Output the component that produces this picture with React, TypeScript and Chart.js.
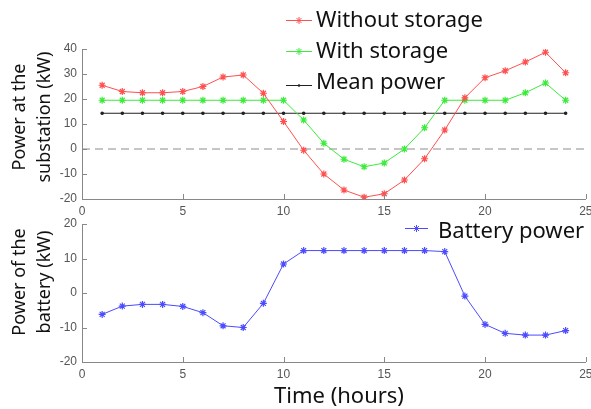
import React, { useEffect, useRef } from "react";
import { Chart, registerables } from "chart.js";
Chart.register(...registerables);

const hours = [1, 2, 3, 4, 5, 6, 7, 8, 9, 10, 11, 12, 13, 14, 15, 16, 17, 18, 19, 20, 21, 22, 23, 24];
const withoutStorage = [25.5, 23, 22.5, 22.5, 23, 25, 28.8, 29.6, 22.3, 11, -0.5, -10, -16.4, -19.3, -17.9, -12.4, -3.9, 7.6, 20.5, 28.5, 31.3, 34.8, 38.7, 30.5];
const withStorage = [19.5, 19.5, 19.5, 19.5, 19.5, 19.5, 19.5, 19.5, 19.5, 19.5, 11.6, 2.3, -4.1, -7.1, -5.6, 0, 8.5, 19.5, 19.5, 19.5, 19.5, 22.5, 26.4, 19.5];
const meanPower = [14.3, 14.3, 14.3, 14.3, 14.3, 14.3, 14.3, 14.3, 14.3, 14.3, 14.3, 14.3, 14.3, 14.3, 14.3, 14.3, 14.3, 14.3, 14.3, 14.3, 14.3, 14.3, 14.3, 14.3];
const batteryPower = [-6.2, -3.8, -3.3, -3.3, -3.9, -5.7, -9.5, -10, -3, 8.4, 12.3, 12.3, 12.3, 12.3, 12.3, 12.3, 12.3, 12, -0.9, -9.1, -11.7, -12.2, -12.2, -10.9];
const zeroLineX = [0, 25];
const zeroLineY = [0, 0];

const xTickRange = { min: 0, max: 25, step: 5 };
const topYRange = { min: -20, max: 40, step: 10 };
const bottomYRange = { min: -20, max: 20, step: 10 };

const topYTitle = ["Power at the", "substation (kW)"];
const bottomYTitle = ["Power of the", "battery (kW)"];
const xTitle = "Time (hours)";

const RED = "rgb(255,80,80)";
const GREEN = "rgb(60,235,60)";
const BLACK = "#222";
const BLUE = "rgb(75,75,255)";

const TEXT_FONT = "'Noto Sans', 'Open Sans', sans-serif";
const TICK_FONT = "'Liberation Sans', Arial, sans-serif";

const pts = (xs: number[], ys: number[]) => xs.map((x, i) => ({ x, y: ys[i] }));

function drawStar(ctx: CanvasRenderingContext2D, x: number, y: number, r: number, color: string) {
  ctx.save();
  ctx.strokeStyle = color;
  ctx.lineWidth = 1;
  ctx.beginPath();
  ctx.moveTo(x - r, y); ctx.lineTo(x + r, y);
  ctx.moveTo(x, y - r); ctx.lineTo(x, y + r);
  const d = r * 0.707;
  ctx.moveTo(x - d, y - d); ctx.lineTo(x + d, y + d);
  ctx.moveTo(x - d, y + d); ctx.lineTo(x + d, y - d);
  ctx.stroke();
  ctx.restore();
}

type LegendItem = { text: string; color: string; marker: "star" | "dot"; lineY: number; baseY: number };

function makePlugins(
  legend: { x1: number; x2: number; textX: number; size: number; items: LegendItem[] },
  yTitle: string[],
  yTitleCenter: number,
  showXTitle: { y: number; x: number } | null
) {
  return [
    {
      id: "innerTicks",
      afterDatasetsDraw(chart: any) {
        const ctx = chart.ctx as CanvasRenderingContext2D;
        const area = chart.chartArea;
        const xs = chart.scales.x;
        const ys = chart.scales.y;
        ctx.save();
        ctx.strokeStyle = "#888";
        ctx.lineWidth = 1;
        ctx.beginPath();
        xs.ticks.forEach((t: any) => {
          const px = Math.round(xs.getPixelForValue(t.value)) + 0.5;
          ctx.moveTo(px, area.bottom);
          ctx.lineTo(px, area.bottom - 5);
        });
        ys.ticks.forEach((t: any) => {
          const py = Math.round(ys.getPixelForValue(t.value)) + 0.5;
          ctx.moveTo(area.left, py);
          ctx.lineTo(area.left + 5, py);
        });
        ctx.stroke();
        ctx.restore();
      },
    },
    {
      id: "texts",
      afterDraw(chart: any) {
        const ctx = chart.ctx as CanvasRenderingContext2D;
        ctx.save();
        ctx.font = `${legend.size}px ${TEXT_FONT}`;
        ctx.textAlign = "left";
        ctx.textBaseline = "alphabetic";
        legend.items.forEach((it) => {
          ctx.strokeStyle = it.color;
          ctx.lineWidth = 1;
          ctx.beginPath();
          ctx.moveTo(legend.x1, it.lineY + 0.5);
          ctx.lineTo(legend.x2, it.lineY + 0.5);
          ctx.stroke();
          const mx = (legend.x1 + legend.x2) / 2;
          if (it.marker === "star") drawStar(ctx, mx, it.lineY + 0.5, 3.5, it.color);
          else {
            ctx.fillStyle = it.color;
            ctx.beginPath();
            ctx.arc(mx, it.lineY + 0.5, 1.3, 0, Math.PI * 2);
            ctx.fill();
          }
          ctx.fillStyle = "#111";
          ctx.fillText(it.text, legend.textX, it.baseY);
        });
        ctx.font = `18px ${TEXT_FONT}`;
        ctx.fillStyle = "#111";
        ctx.textAlign = "center";
        const baselines = [25, 49.5];
        yTitle.forEach((line, i) => {
          ctx.save();
          ctx.translate(baselines[i], yTitleCenter);
          ctx.rotate(-Math.PI / 2);
          ctx.fillText(line, 0, 0);
          ctx.restore();
        });
        if (showXTitle) {
          ctx.font = `22px ${TEXT_FONT}`;
          ctx.textAlign = "center";
          ctx.fillText(xTitle, showXTitle.x, showXTitle.y);
        }
        ctx.restore();
      },
    },
  ];
}

function axisOptions(yr: { min: number; max: number; step: number }, xHeight: number) {
  return {
    x: {
      type: "linear",
      min: xTickRange.min,
      max: xTickRange.max,
      ticks: { stepSize: xTickRange.step, color: "#555", font: { size: 12, family: TICK_FONT }, padding: 5 },
      grid: { display: false, drawTicks: false },
      border: { display: true, color: "#888", width: 1 },
      afterFit: (s: any) => {
        s.height = xHeight;
        s.paddingLeft = 0;
        s.paddingRight = 0;
      },
    },
    y: {
      type: "linear",
      min: yr.min,
      max: yr.max,
      ticks: { stepSize: yr.step, color: "#555", font: { size: 12, family: TICK_FONT }, padding: 5 },
      grid: { display: false, drawTicks: false },
      border: { display: true, color: "#888", width: 1 },
      afterFit: (s: any) => {
        s.width = 82;
        s.paddingTop = 0;
        s.paddingBottom = 0;
      },
    },
  };
}

export default function App() {
  const topRef = useRef<HTMLCanvasElement>(null);
  const botRef = useRef<HTMLCanvasElement>(null);

  useEffect(() => {
    const lineDs = (label: string, ys: number[], color: string, style: string, radius: number) => ({
      label,
      data: pts(hours, ys),
      borderColor: color,
      backgroundColor: color,
      borderWidth: 1,
      pointStyle: style,
      pointRadius: radius,
      pointBorderWidth: 1.2,
      pointBorderColor: color,
      pointBackgroundColor: color,
      tension: 0,
    });

    const top = new Chart(topRef.current!, {
      type: "line",
      data: {
        datasets: [
          lineDs("Without storage", withoutStorage, RED, "star", 3.5),
          lineDs("With storage", withStorage, GREEN, "star", 3.5),
          lineDs("Mean power", meanPower, BLACK, "circle", 1.2),
          {
            label: "zero",
            data: pts(zeroLineX, zeroLineY),
            borderColor: "#8c8c8c",
            borderWidth: 1,
            borderDash: [8, 5],
            pointRadius: 0,
          },
        ],
      } as any,
      options: {
        animation: false,
        responsive: false,
        layout: { padding: { top: 49, right: 3, left: 0, bottom: 0 } },
        plugins: { legend: { display: false }, tooltip: { enabled: false } },
        scales: axisOptions(topYRange, 16) as any,
      },
      plugins: makePlugins(
        {
          x1: 286,
          x2: 312,
          textX: 316,
          size: 22,
          items: [
            { text: "Without storage", color: RED, marker: "star", lineY: 20, baseY: 27 },
            { text: "With storage", color: GREEN, marker: "star", lineY: 51, baseY: 58 },
            { text: "Mean power", color: BLACK, marker: "dot", lineY: 85, baseY: 89 },
          ],
        },
        topYTitle,
        117,
        null
      ) as any,
    });

    const bot = new Chart(botRef.current!, {
      type: "line",
      data: {
        datasets: [lineDs("Battery power", batteryPower, BLUE, "star", 3.5)],
      } as any,
      options: {
        animation: false,
        responsive: false,
        layout: { padding: { top: 9, right: 3, left: 0, bottom: 0 } },
        plugins: { legend: { display: false }, tooltip: { enabled: false } },
        scales: axisOptions(bottomYRange, 47) as any,
      },
      plugins: makePlugins(
        {
          x1: 405,
          x2: 428,
          textX: 438,
          size: 22,
          items: [{ text: "Battery power", color: BLUE, marker: "star", lineY: 13, baseY: 23 }],
        },
        bottomYTitle,
        67,
        { x: 339, y: 188 }
      ) as any,
    });

    return () => {
      top.destroy();
      bot.destroy();
    };
  }, []);

  return (
    <div style={{ position: "absolute", left: 0, top: 0, width: 591, height: 409, overflow: "hidden", background: "#fff" }}>
      <canvas ref={topRef} width={591} height={215} style={{ position: "absolute", left: 0, top: 0, display: "block" }} />
      <canvas ref={botRef} width={591} height={194} style={{ position: "absolute", left: 0, top: 215, display: "block" }} />
    </div>
  );
}
